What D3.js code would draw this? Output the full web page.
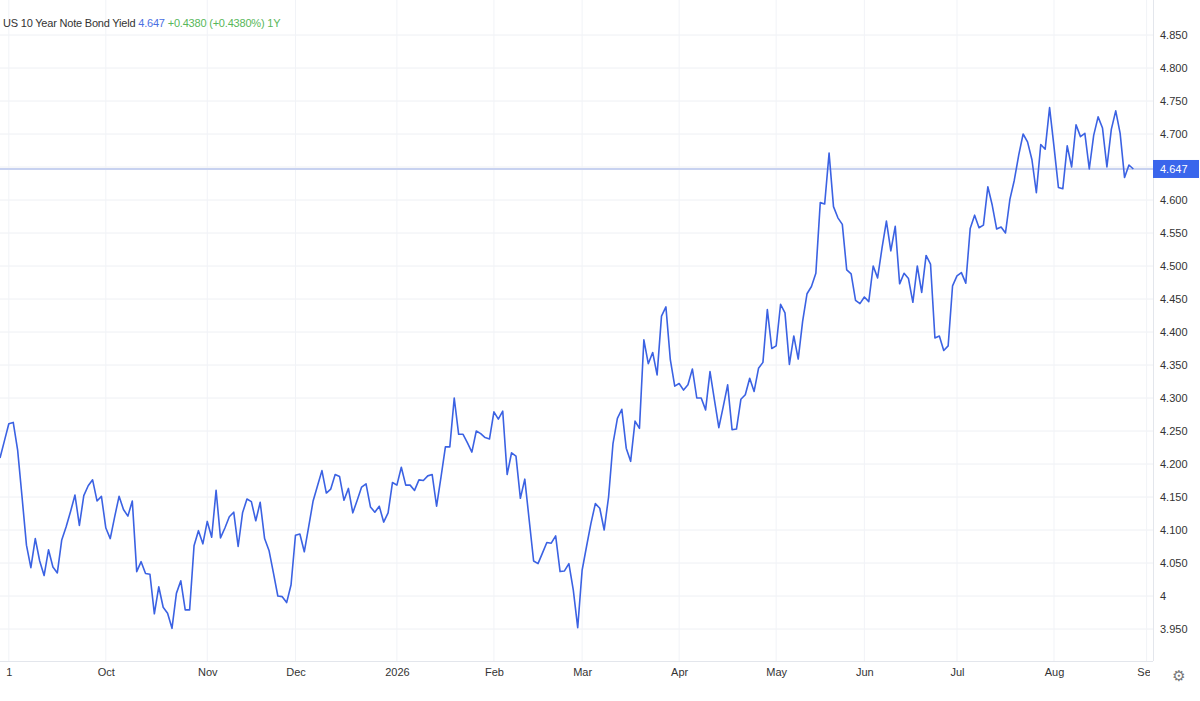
<!DOCTYPE html>
<html>
<head>
<meta charset="utf-8">
<script src="https://cdn.jsdelivr.net/npm/d3@7"></script>
<style>
  html, body { margin: 0; padding: 0; background: #fff; }
  svg { display: block; }
</style>
</head>
<body>
<div id="chart"></div>
<script>
// US 10Y daily closes (one value per trading day)
const yields = [
  4.209, 4.235, 4.261, 4.263, 4.221, 4.150, 4.077, 4.043, 4.087, 4.053,
  4.031, 4.070, 4.044, 4.035, 4.085, 4.105, 4.128, 4.153, 4.107, 4.152,
  4.167, 4.176, 4.144, 4.151, 4.103, 4.087, 4.120, 4.151, 4.131, 4.121,
  4.144, 4.037, 4.052, 4.034, 4.033, 3.973, 4.014, 3.983, 3.974, 3.951,
  4.004, 4.023, 3.979, 3.979, 4.076, 4.099, 4.079, 4.113, 4.089, 4.160,
  4.088, 4.103, 4.120, 4.127, 4.075, 4.126, 4.147, 4.143, 4.114, 4.142,
  4.087, 4.069, 4.035, 4.000, 3.999, 3.990, 4.017, 4.092, 4.094, 4.067,
  4.105, 4.144, 4.167, 4.190, 4.156, 4.162, 4.184, 4.181, 4.145, 4.163,
  4.126, 4.145, 4.165, 4.170, 4.135, 4.127, 4.136, 4.112, 4.126, 4.172,
  4.168, 4.195, 4.168, 4.168, 4.160, 4.176, 4.175, 4.182, 4.184, 4.136,
  4.180, 4.226, 4.226, 4.300, 4.245, 4.245, 4.232, 4.218, 4.250, 4.246,
  4.240, 4.238, 4.279, 4.268, 4.280, 4.184, 4.217, 4.212, 4.148, 4.177,
  4.115, 4.053, 4.049, 4.065, 4.081, 4.080, 4.091, 4.037, 4.038, 4.049,
  4.009, 3.952, 4.039, 4.075, 4.110, 4.140, 4.133, 4.100, 4.150, 4.231,
  4.269, 4.283, 4.224, 4.204, 4.265, 4.254, 4.388, 4.352, 4.369, 4.335,
  4.424, 4.438, 4.358, 4.318, 4.322, 4.312, 4.320, 4.344, 4.300, 4.300,
  4.282, 4.340, 4.297, 4.255, 4.287, 4.320, 4.252, 4.253, 4.298, 4.305,
  4.330, 4.310, 4.345, 4.354, 4.434, 4.375, 4.379, 4.442, 4.429, 4.351,
  4.394, 4.359, 4.416, 4.458, 4.469, 4.489, 4.596, 4.594, 4.671, 4.590,
  4.573, 4.563, 4.494, 4.488, 4.448, 4.443, 4.453, 4.446, 4.500, 4.482,
  4.527, 4.568, 4.523, 4.560, 4.473, 4.489, 4.481, 4.445, 4.500, 4.460,
  4.516, 4.503, 4.391, 4.394, 4.372, 4.379, 4.470, 4.485, 4.490, 4.474,
  4.557, 4.577, 4.558, 4.562, 4.620, 4.592, 4.556, 4.559, 4.550, 4.601,
  4.630, 4.668, 4.700, 4.688, 4.661, 4.611, 4.684, 4.677, 4.740, 4.681,
  4.619, 4.617, 4.682, 4.650, 4.714, 4.696, 4.701, 4.647, 4.698, 4.726,
  4.709, 4.650, 4.707, 4.735, 4.701, 4.634, 4.653, 4.647
];

// trading calendar: weekdays from the first close, minus market holidays
const firstDay = '2025-08-28';
const axisLastDay = '2026-09-01';
const holidays = ['2026-05-25', '2026-06-19', '2026-07-03'];

const monthLabels = ['1', 'Oct', 'Nov', 'Dec', '2026', 'Feb', 'Mar', 'Apr', 'May', 'Jun', 'Jul', 'Aug', 'Sep'];
const yTicks = [3.95, 4.0, 4.05, 4.1, 4.15, 4.2, 4.25, 4.3, 4.35, 4.4, 4.45, 4.5, 4.55, 4.6, 4.65, 4.7, 4.75, 4.8, 4.85];

const seriesName = 'US 10 Year Note Bond Yield';
const lastValue = 4.647;
const changeText = '+0.4380 (+0.4380%) 1Y';

function drawChart() {
  const width = 1200, height = 701;
  const plotRight = 1153, plotBottom = 661;
  const font = '"Liberation Sans", Arial, Helvetica, sans-serif';

  // build trading day list
  const parse = d3.timeParse('%Y-%m-%d');
  const fmt = d3.timeFormat('%Y-%m-%d');
  const skip = new Set(holidays);
  const days = [];
  for (let d = parse(firstDay); d <= parse(axisLastDay); d = d3.timeDay.offset(d, 1)) {
    const wd = d.getDay();
    if (wd === 0 || wd === 6 || skip.has(fmt(d))) continue;
    days.push(d);
  }

  // month boundaries -> tick positions
  const monthTicks = [];
  for (let i = 1; i < days.length; i++) {
    if (days[i].getMonth() !== days[i - 1].getMonth()) monthTicks.push(i);
  }

  const svg = d3.select('#chart').append('svg')
    .attr('width', width)
    .attr('height', height)
    .style('font-family', font);

  const x = d3.scaleLinear().domain([0, 261.45]).range([0, plotRight]);
  const y = d3.scaleLinear().domain([3.95, 4.85]).range([629, 35]);

  const defs = svg.append('defs');
  defs.append('clipPath').attr('id', 'plot-clip')
    .append('rect').attr('x', 0).attr('y', 0).attr('width', plotRight).attr('height', plotBottom);
  // x labels are cut at the price axis, like the "Se" in the original
  defs.append('clipPath').attr('id', 'xaxis-clip')
    .append('rect').attr('x', 0).attr('y', 0).attr('width', plotRight - 3).attr('height', 40);

  // grid
  const grid = svg.append('g');
  grid.selectAll('line.h')
    .data(yTicks)
    .join('line')
    .attr('class', 'h')
    .attr('x1', 0).attr('x2', plotRight)
    .attr('y1', d => y(d)).attr('y2', d => y(d))
    .attr('stroke', '#eef0f4')
    .attr('stroke-width', 1);

  grid.selectAll('line.v')
    .data(monthTicks)
    .join('line')
    .attr('class', 'v')
    .attr('x1', d => x(d)).attr('x2', d => x(d))
    .attr('y1', 0).attr('y2', plotBottom)
    .attr('stroke', '#f1f3f7')
    .attr('stroke-width', 1);

  // borders
  svg.append('line')
    .attr('x1', plotRight + 0.5).attr('x2', plotRight + 0.5)
    .attr('y1', 0).attr('y2', plotBottom)
    .attr('stroke', '#e3e6ec');
  svg.append('line')
    .attr('x1', 0).attr('x2', plotRight)
    .attr('y1', plotBottom + 0.5).attr('y2', plotBottom + 0.5)
    .attr('stroke', '#e3e6ec');

  // last price line
  svg.append('line')
    .attr('x1', 0).attr('x2', plotRight)
    .attr('y1', y(lastValue)).attr('y2', y(lastValue))
    .attr('stroke', '#c8d2f0')
    .attr('stroke-width', 2);

  // series
  const line = d3.line()
    .x((d, i) => x(i))
    .y(d => y(d));

  svg.append('path')
    .datum(yields)
    .attr('clip-path', 'url(#plot-clip)')
    .attr('d', line)
    .attr('fill', 'none')
    .attr('stroke', '#3b62e3')
    .attr('stroke-width', 1.6)
    .attr('stroke-linejoin', 'round');

  // right axis
  const yAxis = d3.axisRight(y)
    .tickValues(yTicks)
    .tickSize(0)
    .tickPadding(7)
    .tickFormat(d => Number.isInteger(d) ? String(d) : d3.format('.3f')(d));

  const yg = svg.append('g')
    .attr('transform', `translate(${plotRight},0)`)
    .call(yAxis);
  yg.select('.domain').remove();
  yg.selectAll('text')
    .attr('fill', '#333')
    .style('font-size', '11px')
    .style('font-family', font);

  // price tag
  const tag = svg.append('g').attr('transform', `translate(${plotRight},${y(lastValue)})`);
  tag.append('rect')
    .attr('x', 0).attr('y', -9)
    .attr('width', 46).attr('height', 18)
    .attr('fill', '#3a66ec');
  tag.append('text')
    .attr('x', 7).attr('dy', '0.35em')
    .attr('fill', '#fff')
    .style('font-size', '11px')
    .text(d3.format('.3f')(lastValue));

  // bottom axis
  const xAxis = d3.axisBottom(x)
    .tickValues(monthTicks)
    .tickSize(0)
    .tickPadding(7)
    .tickFormat((d, i) => monthLabels[i]);

  const xg = svg.append('g')
    .attr('transform', `translate(0,${plotBottom})`)
    .attr('clip-path', 'url(#xaxis-clip)')
    .call(xAxis);
  xg.select('.domain').remove();
  xg.selectAll('text')
    .attr('fill', '#333')
    .style('font-size', '11px')
    .style('font-family', font);

  // settings gear
  svg.append('text')
    .attr('x', 1179).attr('y', 676)
    .attr('text-anchor', 'middle')
    .attr('dy', '0.35em')
    .attr('fill', '#777')
    .style('font-family', '"DejaVu Sans", sans-serif')
    .style('font-size', '15px')
    .text('\u2699');

  // title
  const title = svg.append('text')
    .attr('x', 3).attr('y', 27)
    .style('font-size', '11px')
    .style('letter-spacing', '-0.2px');
  title.append('tspan').attr('fill', '#333').text(seriesName + ' ');
  title.append('tspan').attr('fill', '#4a6fe3').text(d3.format('.3f')(lastValue) + ' ');
  title.append('tspan').attr('fill', '#58b75a').text(changeText);
}

if (document.readyState === 'loading') {
  document.addEventListener('DOMContentLoaded', drawChart);
} else {
  drawChart();
}
</script>
</body>
</html>
